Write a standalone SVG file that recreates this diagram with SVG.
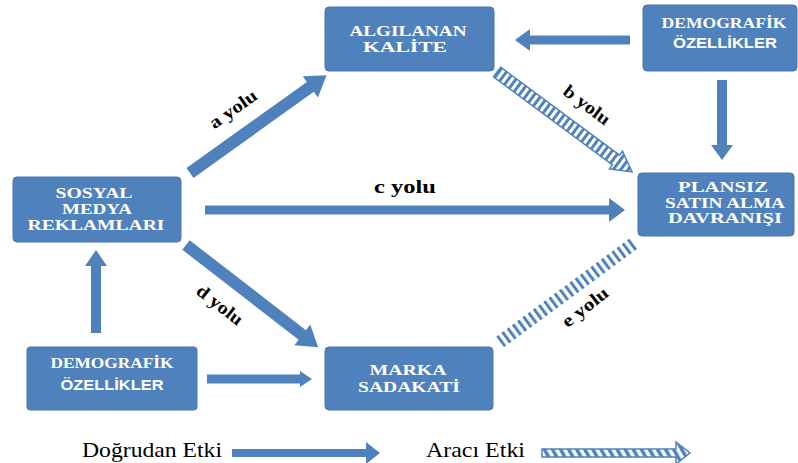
<svg xmlns="http://www.w3.org/2000/svg" width="798" height="463" viewBox="0 0 798 463">
<defs>
<style>
.box{fill:#4F81BD;stroke:#4676B0;stroke-width:1}
.nt{fill:#FFFFFF;font-family:"Liberation Serif","DejaVu Serif",serif;font-weight:bold;font-size:15px;text-anchor:middle}
.ns{fill:#FFFFFF;font-family:"Liberation Sans","DejaVu Sans",sans-serif;font-weight:bold;font-size:14px;text-anchor:middle}
.arr{fill:#4F81BD}
.sarr{fill:url(#vstripe);stroke:#4F81BD;stroke-width:1.5}
.lbl{fill:#000;font-family:"Liberation Serif","DejaVu Serif",serif;font-weight:bold;font-size:18px;text-anchor:middle}
.leg{fill:#000;font-family:"Liberation Serif","DejaVu Serif",serif;font-size:21px}
</style>
<pattern id="vstripe" patternUnits="userSpaceOnUse" width="6" height="10">
<rect x="0" y="0" width="6" height="10" fill="#FFFFFF"/>
<rect x="0" y="0" width="3" height="10" fill="#4F81BD"/>
</pattern>
<pattern id="vstripe2" patternUnits="userSpaceOnUse" width="6.5" height="10">
<rect x="0" y="0" width="3" height="10" fill="#4F81BD"/>
</pattern>
<pattern id="dstripe" patternUnits="userSpaceOnUse" width="7" height="10" patternTransform="rotate(-30)">
<rect x="0" y="0" width="7" height="10" fill="#FFFFFF"/>
<rect x="0" y="0" width="3.5" height="10" fill="#4F81BD"/>
</pattern>
</defs>
<rect width="798" height="463" fill="#FFFFFF"/>

<g id="connectors">
<polygon class="arr" transform="translate(190,173) rotate(-35.6)" points="0,-6 148,-6 148,-13 168,0 148,13 148,6 0,6"/>
<polygon class="arr" transform="translate(186,245) rotate(37.7)" points="0,-6 147,-6 147,-13 167,0 147,13 147,6 0,6"/>
<polygon class="arr" points="205,205.5 609,205.5 609,198 625,210 609,222 609,214.5 205,214.5"/>
<polygon class="arr" transform="translate(630,40) rotate(180)" points="0,-4.5 100,-4.5 100,-11 115,0 100,11 100,4.5 0,4.5"/>
<polygon class="arr" transform="translate(722,80) rotate(90)" points="0,-5 65,-5 65,-11 80,0 65,11 65,5 0,5"/>
<polygon class="arr" transform="translate(96,333) rotate(-90)" points="0,-5 67,-5 67,-11 83,0 67,11 67,5 0,5"/>
<polygon class="arr" points="207,374.5 300,374.5 300,371 312,379 300,387 300,383.5 207,383.5"/>
<polygon class="sarr" transform="translate(497,72) rotate(36.5)" points="0,-6 148,-6 148,-11 168,0 148,11 148,6 0,6"/>
<rect fill="url(#vstripe2)" transform="translate(500,342) rotate(-36.4)" x="0" y="-6.5" width="166" height="13"/>
</g>

<g id="labels">
<text class="lbl" transform="translate(233,109) rotate(-35)" x="0" y="6" textLength="54" lengthAdjust="spacingAndGlyphs">a yolu</text>
<text class="lbl" transform="translate(587,105) rotate(37)" x="0" y="6" textLength="54" lengthAdjust="spacingAndGlyphs">b yolu</text>
<text class="lbl" x="405" y="193" textLength="62" lengthAdjust="spacingAndGlyphs">c yolu</text>
<text class="lbl" transform="translate(220,305) rotate(38)" x="0" y="6" textLength="54" lengthAdjust="spacingAndGlyphs">d yolu</text>
<text class="lbl" transform="translate(585,307) rotate(-38)" x="0" y="6" textLength="54" lengthAdjust="spacingAndGlyphs">e yolu</text>
</g>

<g id="node-algilanan">
<rect class="box" x="325" y="7" width="169" height="64" rx="4"/>
<text class="nt" x="408" y="36" textLength="117" lengthAdjust="spacingAndGlyphs">ALGILANAN</text>
<text class="nt" x="405" y="52" textLength="84" lengthAdjust="spacingAndGlyphs">KALİTE</text>
</g>

<g id="node-demografik-top">
<rect class="box" x="643" y="5" width="154" height="66" rx="4"/>
<text class="nt" x="724" y="28" textLength="125" lengthAdjust="spacingAndGlyphs">DEMOGRAFİK</text>
<text class="ns" x="725" y="48" textLength="104" lengthAdjust="spacingAndGlyphs">ÖZELLİKLER</text>
</g>

<g id="node-sosyal">
<rect class="box" x="13" y="177" width="168" height="65" rx="4"/>
<text class="nt" x="94" y="198" textLength="77" lengthAdjust="spacingAndGlyphs">SOSYAL</text>
<text class="nt" x="97" y="214" textLength="70" lengthAdjust="spacingAndGlyphs">MEDYA</text>
<text class="nt" x="96" y="230" textLength="137" lengthAdjust="spacingAndGlyphs">REKLAMLARI</text>
</g>

<g id="node-plansiz">
<rect class="box" x="638" y="173" width="156" height="63" rx="4"/>
<text class="nt" x="723" y="192" textLength="90" lengthAdjust="spacingAndGlyphs">PLANSIZ</text>
<text class="nt" x="725" y="207.5" textLength="120" lengthAdjust="spacingAndGlyphs">SATIN ALMA</text>
<text class="nt" x="725" y="223" textLength="114" lengthAdjust="spacingAndGlyphs">DAVRANIŞI</text>
</g>

<g id="node-demografik-bottom">
<rect class="box" x="27" y="347" width="170" height="63" rx="3"/>
<text class="nt" x="112" y="368" textLength="123" lengthAdjust="spacingAndGlyphs">DEMOGRAFİK</text>
<text class="ns" x="112" y="390" textLength="103" lengthAdjust="spacingAndGlyphs">ÖZELLİKLER</text>
</g>

<g id="node-marka">
<rect class="box" x="325" y="347" width="168" height="63" rx="4"/>
<text class="nt" x="408" y="375" textLength="77" lengthAdjust="spacingAndGlyphs">MARKA</text>
<text class="nt" x="409" y="392" textLength="102" lengthAdjust="spacingAndGlyphs">SADAKATİ</text>
</g>

<g id="legend">
<text class="leg" x="82" y="457" textLength="140" lengthAdjust="spacingAndGlyphs">Doğrudan Etki</text>
<polygon class="arr" points="232,449 366,449 366,442 380,453 366,464 366,457 232,457"/>
<text class="leg" x="426" y="457" textLength="99" lengthAdjust="spacingAndGlyphs">Aracı Etki</text>
<polygon fill="url(#dstripe)" stroke="#4F81BD" stroke-width="1.5" points="542,449 676,449 676,442 690,453 676,464 676,457 542,457"/>
</g>
</svg>
